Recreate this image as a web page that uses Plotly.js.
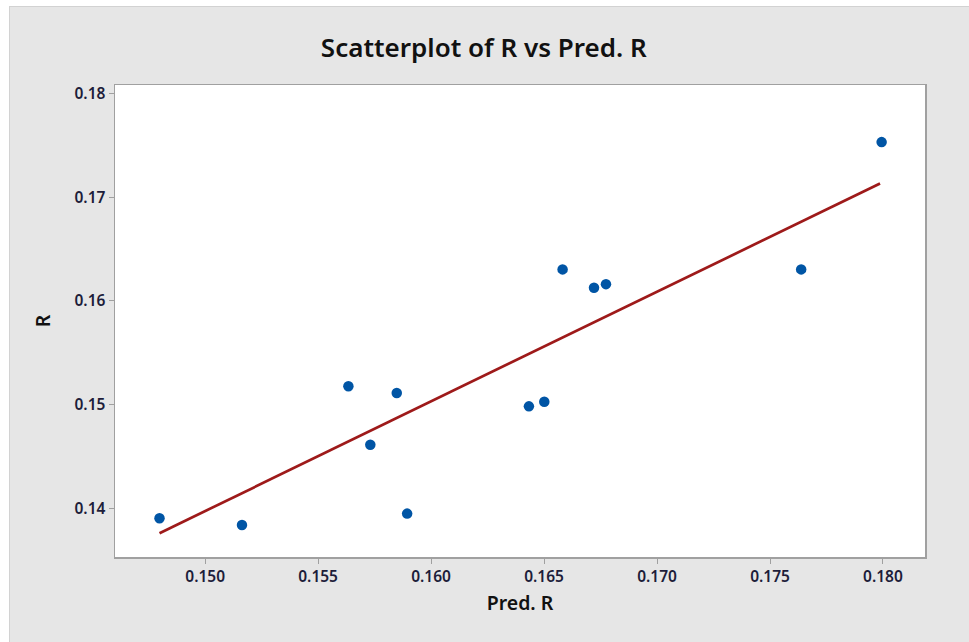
<!DOCTYPE html>
<html>
<head>
<meta charset="utf-8">
<script src="https://cdn.plot.ly/plotly-3.0.1.min.js"></script>
<style>
  html, body { margin: 0; padding: 0; background: #ffffff; }
  #frame {
    position: absolute; left: 9px; top: 6px; width: 960px; height: 636px;
    background: #e6e6e6; border-top: 1px solid #d2d2d2; border-left: 1px solid #d2d2d2;
  }
  #chart { width: 960px; height: 636px; }
</style>
</head>
<body>
<div id="frame"><div id="chart"></div></div>
<script>
// Predicted vs observed R values
const predR = [0.14798, 0.15163, 0.15634, 0.15731, 0.15848, 0.15894, 0.16433,
               0.16501, 0.16582, 0.16721, 0.16774, 0.17638, 0.17994];
const obsR  = [0.13907, 0.13843, 0.15178, 0.14615, 0.15114, 0.13952, 0.14985,
               0.15030, 0.16304, 0.16128, 0.16162, 0.16304, 0.17530];
// Fitted regression line, at the ends of the Pred. R range
const fitPredR = [0.14798, 0.17987];
const fitR     = [0.13763, 0.17131];
const xTicks = [0.150, 0.155, 0.160, 0.165, 0.170, 0.175, 0.180];
const yTicks = [0.14, 0.15, 0.16, 0.17, 0.18];

const tickFont = { family: 'Noto Sans, sans-serif', size: 15.5, color: '#1d1d3a', weight: 600 };
const titleFont = { family: 'Noto Sans, sans-serif', size: 19.5, color: '#111111', weight: 600 };

const traces = [
  {
    x: fitPredR, y: fitR, type: 'scatter', mode: 'lines',
    line: { color: '#9e1a1a', width: 2.7 }, hoverinfo: 'skip'
  },
  {
    x: predR, y: obsR, type: 'scatter', mode: 'markers',
    marker: { color: '#0055a5', size: 10.5, symbol: 'circle' }
  }
];

const axisCommon = {
  showgrid: false, zeroline: false,
  showline: true, linecolor: '#a0a0a0', linewidth: 1.5, mirror: true,
  ticks: 'outside', ticklen: 5, tickcolor: '#a0a0a0', tickwidth: 1,
  tickfont: tickFont
};

const layout = {
  width: 960, height: 636,
  paper_bgcolor: '#e6e6e6', plot_bgcolor: '#ffffff',
  showlegend: false,
  margin: { l: 105, r: 45, t: 78, b: 86 },
  title: {
    text: 'Scatterplot of R vs Pred. R',
    font: { family: 'Noto Sans, sans-serif', size: 26, color: '#111111', weight: 600 },
    x: 0.4935, xanchor: 'center', y: 0.935, yanchor: 'middle'
  },
  xaxis: Object.assign({}, axisCommon, {
    range: [0.14601, 0.18186],
    tickvals: xTicks, ticktext: xTicks.map(v => v.toFixed(3)),
    title: { text: 'Pred. R', font: titleFont, standoff: 10 }
  }),
  yaxis: Object.assign({}, axisCommon, {
    range: [0.13534, 0.1808],
    tickvals: yTicks, ticktext: yTicks.map(v => v.toFixed(2)),
    title: { text: 'R', font: titleFont, standoff: 18 }
  })
};

Plotly.newPlot('chart', traces, layout, { displayModeBar: false, staticPlot: true });
</script>
</body>
</html>
